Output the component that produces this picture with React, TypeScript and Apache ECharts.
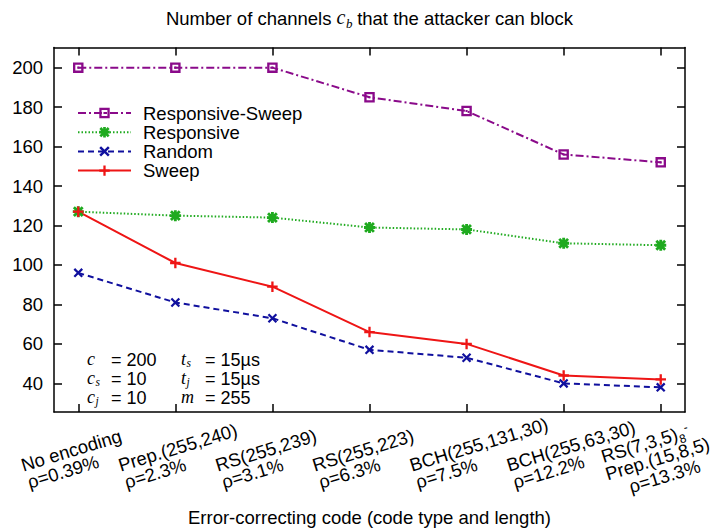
import React, { useEffect, useRef } from 'react';
import * as echarts from 'echarts';

const codeNames = ['No encoding', 'Prep.(255,240)', 'RS(255,239)', 'RS(255,223)', 'BCH(255,131,30)', 'BCH(255,63,30)', 'RS(7,3,5)'];
const codeRho = ['0.39', '2.3', '3.1', '6.3', '7.5', '12.2', '13.3'];
const lastCodeSecond = 'Prep.(15,8,5)';
const lastCodeSub = '8';
const lastCodeSup = '-';
const xTicks = [0, 1, 2, 3, 4, 5, 6];
const yTicks = [40, 60, 80, 100, 120, 140, 160, 180, 200];

const seriesNames = ['Responsive-Sweep', 'Responsive', 'Random', 'Sweep'];
const responsiveSweep = [200, 200, 200, 185, 178, 156, 152];
const responsive = [127, 125, 124, 119, 118, 111, 110];
const random = [96, 81, 73, 57, 53, 40, 38];
const sweep = [127, 101, 89, 66, 60, 44, 42];

const titleParts = ['Number of channels ', 'c', 'b', ' that the attacker can block'];
const paramsLeft = [['c', '', '= 200'], ['c', 's', '= 10'], ['c', 'j', '= 10']];
const paramsRight = [['t', 's', '= 15µs'], ['t', 'j', '= 15µs'], ['m', '', '= 255']];

const SANS = 'Liberation Sans';
const SERIF = 'Liberation Serif';
const FS = 18.5;

const SQUARE = 'path://M0,0H10V10H0Z M2.2,2.2V7.8H7.8V2.2Z M4,4H6V6H4Z';
const PLUS = 'path://M3.9,0H6.1V3.9H10V6.1H6.1V10H3.9V6.1H0V3.9H3.9Z';
const CROSS = 'path://M1.8,0.2L9.8,8.2L8.2,9.8L0.2,1.8Z M8.2,0.2L9.8,1.8L1.8,9.8L0.2,8.2Z';
const STAR = 'path://M3.7,0H6.3V3.7H10V6.3H6.3V10H3.7V6.3H0V3.7H3.7Z M1.9,0.1L9.9,8.1L8.1,9.9L0.1,1.9Z M8.1,0.1L9.9,1.9L1.9,9.9L0.1,8.1Z';

const colors = ['#8a0a8a', '#1faa1f', '#10109e', '#ee1515'];

const App: React.FC = () => {
  const ref = useRef<HTMLDivElement>(null);
  useEffect(() => {
    if (!ref.current) return;
    const chart = echarts.init(ref.current, undefined, { renderer: 'svg' });
    const mk = (vals: number[]) => vals.map((v, i) => [i, v]);

    const cv = document.createElement('canvas').getContext('2d') as CanvasRenderingContext2D;
    const measure = (text: string, size: number, family: string, italic = false) => {
      cv.font = `${italic ? 'italic ' : ''}${size}px "${family}"`;
      return cv.measureText(text).width;
    };
    const txt = (text: string, x: number, y: number, size: number, family: string, italic = false, rotation = 0, lineHeight?: number) => ({
      type: 'text', x, y, rotation,
      style: {
        text, fontFamily: family, fontSize: size, fontStyle: italic ? 'italic' : 'normal',
        lineHeight: lineHeight ?? size,
        fill: '#000', verticalAlign: 'middle', align: 'left',
      },
    });

    const graphics: any[] = [];

    // title with math c_b, centred on the plot area
    {
      const w0 = measure(titleParts[0], FS, SANS);
      const w1 = measure(titleParts[1], 20, SERIF, true);
      const w2 = measure(titleParts[2], 13, SERIF, true);
      const w3 = measure(titleParts[3], FS, SANS);
      const total = w0 + w1 + w2 + w3;
      let x = 369.5 - total / 2;
      const y = 18;
      graphics.push(txt(titleParts[0], x, y, FS, SANS)); x += w0;
      graphics.push(txt(titleParts[1], x, y - 1, 20, SERIF, true)); x += w1 + 0.5;
      graphics.push(txt(titleParts[2], x, y + 5, 13, SERIF, true, 0, 9)); x += w2 - 0.5;
      graphics.push(txt(titleParts[3], x, y, FS, SANS));
    }

    // parameter block
    const rowsY = [359.5, 378.5, 397.5];
    const addRow = (arr: string[][], xVar: number, xVal: number) => {
      arr.forEach((p, i) => {
        graphics.push(txt(p[0], xVar, rowsY[i] - 1, 18, SERIF, true, 0, 13));
        if (p[1]) {
          const w = measure(p[0], 18, SERIF, true);
          graphics.push(txt(p[1], xVar + w + 0.5, rowsY[i] + 3.5, 11.5, SERIF, true, 0, 8));
        }
        graphics.push(txt(p[2], xVal, rowsY[i], 18, SANS, false, 0, 16));
      });
    };
    addRow(paramsLeft, 87, 111);
    addRow(paramsRight, 181, 205);

    const axisLineStyle = { color: '#000', width: 1.5 };
    const option: any = {
      animation: false,
      textStyle: { fontFamily: SANS },
      legend: {
        orient: 'vertical', left: 77, top: 103.4, padding: 0,
        itemWidth: 53, itemHeight: 13, itemGap: 0,
        data: seriesNames,
        textStyle: { fontFamily: SANS, fontSize: FS, color: '#000', lineHeight: 19.2, padding: [0, 0, 0, 7] },
      },
      grid: { left: 54, right: 31, top: 47.5, bottom: 118, outerBoundsMode: 'none', containLabel: false },
      xAxis: [
        {
          type: 'value', min: -0.25, max: 6.25, position: 'bottom',
          name: 'Error-correcting code (code type and length)', nameLocation: 'middle', nameGap: 96,
          nameMoveOverlap: false,
          nameTextStyle: { fontFamily: SANS, fontSize: FS, color: '#000' },
          axisLine: { show: true, onZero: false, lineStyle: axisLineStyle },
          axisTick: { show: true, inside: true, length: 8, customValues: xTicks, lineStyle: axisLineStyle },
          splitLine: { show: false },
          axisLabel: { show: false },
        },
        {
          type: 'value', min: -0.25, max: 6.25, position: 'top',
          axisLine: { show: true, onZero: false, lineStyle: axisLineStyle },
          axisTick: { show: true, inside: true, length: 8, customValues: xTicks, lineStyle: axisLineStyle },
          axisLabel: { show: false },
          splitLine: { show: false },
        },
      ],
      yAxis: [
        {
          type: 'value', min: 25.5, max: 210.2, position: 'left',
          axisLine: { show: true, onZero: false, lineStyle: axisLineStyle },
          axisTick: { show: true, inside: true, length: 8, customValues: yTicks, lineStyle: axisLineStyle },
          axisLabel: { customValues: yTicks, margin: 11, fontFamily: SANS, fontSize: FS, color: '#000' },
          splitLine: { show: false },
        },
        {
          type: 'value', min: 25.5, max: 210.2, position: 'right',
          axisLine: { show: true, onZero: false, lineStyle: axisLineStyle },
          axisTick: { show: true, inside: true, length: 8, customValues: yTicks, lineStyle: axisLineStyle },
          axisLabel: { show: false },
          splitLine: { show: false },
        },
      ],
      series: [
        {
          name: seriesNames[0], type: 'line', data: mk(responsiveSweep), symbol: SQUARE, symbolSize: 10.5,
          lineStyle: { color: colors[0], width: 2, type: [8, 3, 2, 3] }, itemStyle: { color: colors[0] },
        },
        {
          name: seriesNames[1], type: 'line', data: mk(responsive), symbol: STAR, symbolSize: 11,
          lineStyle: { color: colors[1], width: 2, type: [1.5, 2] }, itemStyle: { color: colors[1] },
        },
        {
          name: seriesNames[2], type: 'line', data: mk(random), symbol: CROSS, symbolSize: 9.5,
          lineStyle: { color: colors[2], width: 2, type: [6, 4] }, itemStyle: { color: colors[2] },
        },
        {
          name: seriesNames[3], type: 'line', data: mk(sweep), symbol: PLUS, symbolSize: 10.5,
          lineStyle: { color: colors[3], width: 2 }, itemStyle: { color: colors[3] },
        },
      ],
    };
    chart.setOption(option);

    // rotated multi-line category labels, anchored at each tick through the x scale
    const ang = (17 * Math.PI) / 180;
    const ux = Math.cos(ang), uy = -Math.sin(ang); // along the text
    const vx = Math.sin(ang), vy = Math.cos(ang); // down across the text
    const axisY = 412;
    const pushRot = (text: string, bx: number, by: number, along: number, perp: number, size = FS) => {
      const px = bx + along * ux + perp * vx;
      const py = by + along * uy + perp * vy;
      const mid = 0.35 * size;
      graphics.push(txt(text, px - mid * vx, py - mid * vy, size, SANS, false, ang, size < 14 ? 9 : 17));
    };
    xTicks.forEach((t) => {
      const px = chart.convertToPixel({ xAxisIndex: 0 }, t) as number;
      const sx = px - 54.7;
      const sy = axisY + 59.7;
      if (t === 6) {
        const p0 = -9;
        const w1 = measure(codeNames[t], FS, SANS);
        const w8 = measure(lastCodeSub, 12, SANS);
        pushRot(codeNames[t], sx, sy, 0, p0);
        pushRot(lastCodeSub, sx, sy, w1 + 0.5, p0 + 4, 12);
        pushRot(lastCodeSup, sx, sy, w1 + w8 + 1, p0 - 6, 12);
        pushRot(lastCodeSecond, sx, sy, -1, p0 + 18);
        pushRot(`ρ=${codeRho[t]}%`, sx, sy, 17.7, p0 + 37);
      } else {
        pushRot(codeNames[t], sx, sy, 0, 0);
        pushRot(`ρ=${codeRho[t]}%`, sx, sy, 1, 18);
      }
    });
    chart.setOption({ graphic: graphics });
    return () => chart.dispose();
  }, []);
  return <div ref={ref} style={{ width: 716, height: 530, position: 'absolute', left: 0, top: 0, background: '#fff' }} />;
};

export default App;
